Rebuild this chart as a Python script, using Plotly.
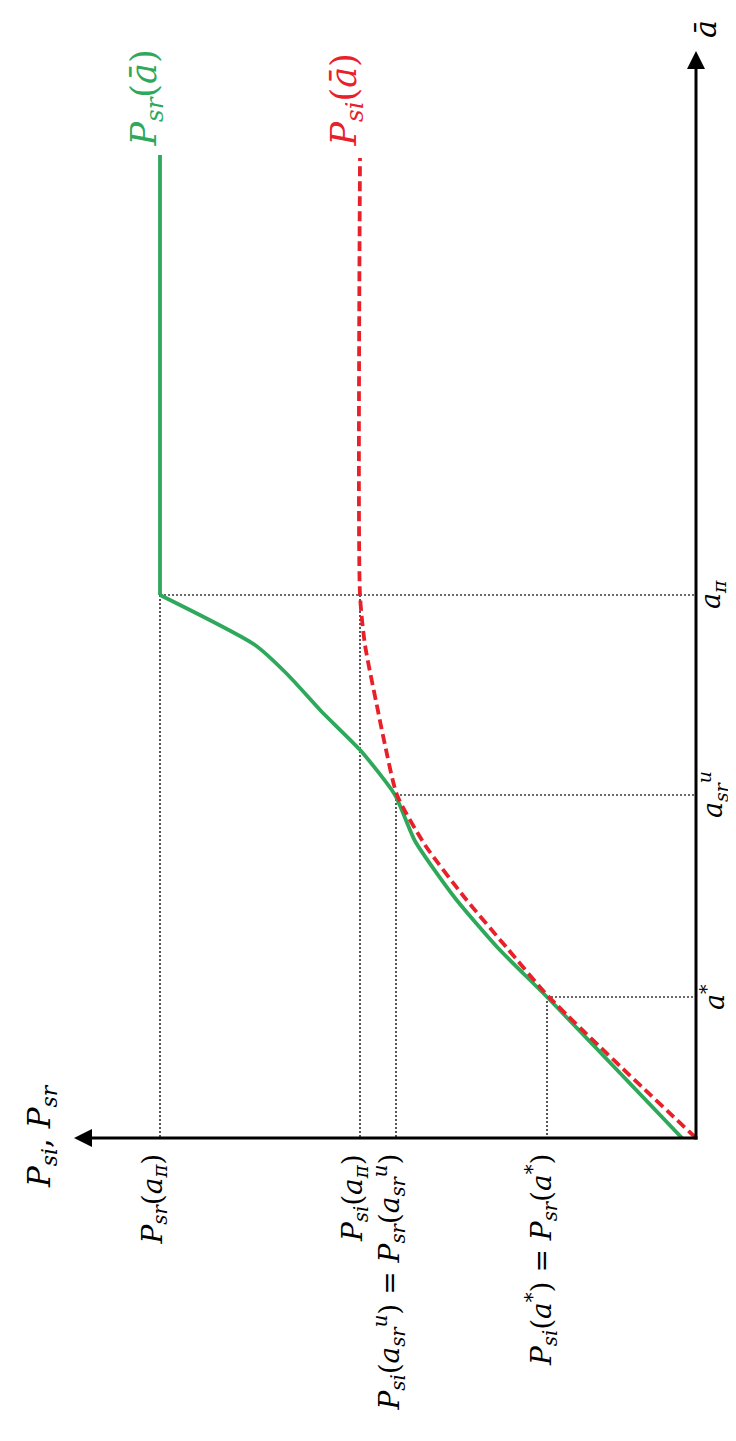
import plotly.graph_objects as go

# ---- data (abstract units) ----
# characteristic abscissae (a-bar axis)
a_star = 141
a_sr_u = 343
a_pi = 543
a_end = 983
a_axis_end = 1087

# characteristic ordinates (P axis)
P_star = 149      # P_si(a*) = P_sr(a*)
P_sru = 300       # P_si(a_sr^u) = P_sr(a_sr^u)
P_si_pi = 336     # P_si(a_pi)
P_sr_pi = 536     # P_sr(a_pi)
P_axis_end = 622

# P_sr(a-bar) curve (green): rising part then flat part
a_sr_pts = [0, 141, 190, 240, 297, 343, 387, 427, 463, 493, 543, 983]
P_sr_pts = [14, 149, 198, 241, 281, 301, 335, 375, 408, 441, 536, 536]

# P_si(a-bar) curve (red dashed)
a_si_pts = [0, 141, 190, 240, 293, 343, 393, 427, 493, 543, 980]
P_si_pts = [0, 147, 189, 231, 271, 299, 311, 318, 331, 336, 336]

# tick labels
a_tick_vals = [a_star, a_sr_u, a_pi]
a_tick_text = ["<i>a</i><sup>*</sup>",
               "<i>a</i><sub><i>sr</i></sub><sup><i>u</i></sup>",
               "<i>a</i><sub><i>π</i></sub>"]
P_tick_vals = [P_sr_pi, P_si_pi, P_sru, P_star]
P_tick_text = ["<i>P</i><sub><i>sr</i></sub>(<i>a</i><sub><i>π</i></sub>)",
               "<i>P</i><sub><i>si</i></sub>(<i>a</i><sub><i>π</i></sub>)",
               "<i>P</i><sub><i>si</i></sub>(<i>a</i><sub><i>sr</i></sub><sup><i>u</i></sup>) = <i>P</i><sub><i>sr</i></sub>(<i>a</i><sub><i>sr</i></sub><sup><i>u</i></sup>)",
               "<i>P</i><sub><i>si</i></sub>(<i>a</i><sup>*</sup>) = <i>P</i><sub><i>sr</i></sub>(<i>a</i><sup>*</sup>)"]

GREEN = "#2ea85a"
RED = "#e8202a"
DOT = "#3a3a3a"
FONT = "DejaVu Serif"

fig = go.Figure()

# dotted guide lines
dot_style = dict(color=DOT, width=1.7, dash="2px,2px")
guides = [
    ([P_star, 0], [a_star, a_star]),
    ([P_star, P_star], [a_star, 0]),
    ([P_sru, 0], [a_sr_u, a_sr_u]),
    ([P_sru, P_sru], [a_sr_u, 0]),
    ([P_sr_pi, 0], [a_pi, a_pi]),
    ([P_sr_pi, P_sr_pi], [a_pi, 0]),
    ([P_si_pi, P_si_pi], [a_pi, 0]),
]
for gx, gy in guides:
    fig.add_trace(go.Scatter(x=gx, y=gy, mode="lines", line=dot_style,
                             hoverinfo="skip", showlegend=False))

# curves (green: smooth rising part + sharp corner + flat part)
k = a_sr_pts.index(a_pi)
fig.add_trace(go.Scatter(x=P_sr_pts[:k + 1], y=a_sr_pts[:k + 1], mode="lines",
                         line=dict(color=GREEN, width=3.8, shape="spline", smoothing=0.6),
                         showlegend=False))
fig.add_trace(go.Scatter(x=P_sr_pts[k:], y=a_sr_pts[k:], mode="lines",
                         line=dict(color=GREEN, width=3.8), showlegend=False))
fig.add_trace(go.Scatter(x=P_si_pts, y=a_si_pts, mode="lines",
                         line=dict(color=RED, width=3.8, dash="10px,5px",
                                   shape="spline", smoothing=0.6),
                         showlegend=False))

# axes with arrows
fig.add_annotation(x=0, y=a_axis_end, ax=0, ay=-3, xref="x", yref="y",
                   axref="x", ayref="y", showarrow=True, arrowhead=2,
                   arrowsize=1.2, arrowwidth=3, arrowcolor="black", text="")
fig.add_annotation(x=P_axis_end, y=0, ax=-3, ay=0, xref="x", yref="y",
                   axref="x", ayref="y", showarrow=True, arrowhead=2,
                   arrowsize=1.2, arrowwidth=3, arrowcolor="black", text="")

# axis titles
fig.add_annotation(x=-9, y=a_axis_end + 22, text="<i>ā</i>", showarrow=False,
                   textangle=-90, font=dict(family=FONT, size=30, color="black"))
fig.add_annotation(x=655, y=2, text="<i>P</i><sub><i>si</i></sub>, <i>P</i><sub><i>sr</i></sub>",
                   showarrow=False, textangle=-90,
                   font=dict(family=FONT, size=31, color="black"))

# a-bar tick labels
for v, t in zip(a_tick_vals, a_tick_text):
    fig.add_annotation(x=-16, y=v, text=t, showarrow=False, textangle=-90,
                       font=dict(family=FONT, size=27, color="black"))

# P tick labels
for v, t in zip(P_tick_vals, P_tick_text):
    fig.add_annotation(x=v, y=-14, text=t, showarrow=False, textangle=-90,
                       yanchor="top", xshift=-6,
                       font=dict(family=FONT, size=28, color="black"))

# curve labels
fig.add_annotation(x=P_sr_pi, y=a_end + 6, text="<i>P</i><sub><i>sr</i></sub>(<i>ā</i>)",
                   showarrow=False, textangle=-90, yanchor="bottom", xshift=-14,
                   font=dict(family=FONT, size=35, color=GREEN))
fig.add_annotation(x=P_si_pi, y=a_end + 6, text="<i>P</i><sub><i>si</i></sub>(<i>ā</i>)",
                   showarrow=False, textangle=-90, yanchor="bottom", xshift=-14,
                   font=dict(family=FONT, size=35, color=RED))

fig.update_xaxes(range=[688, -48], visible=False, showgrid=False, zeroline=False)
fig.update_yaxes(range=[-311, 1130], visible=False, showgrid=False, zeroline=False)
fig.update_layout(width=736, height=1441, margin=dict(l=0, r=0, t=0, b=0),
                  plot_bgcolor="white", paper_bgcolor="white", showlegend=False)

fig.write_html("out.html")
